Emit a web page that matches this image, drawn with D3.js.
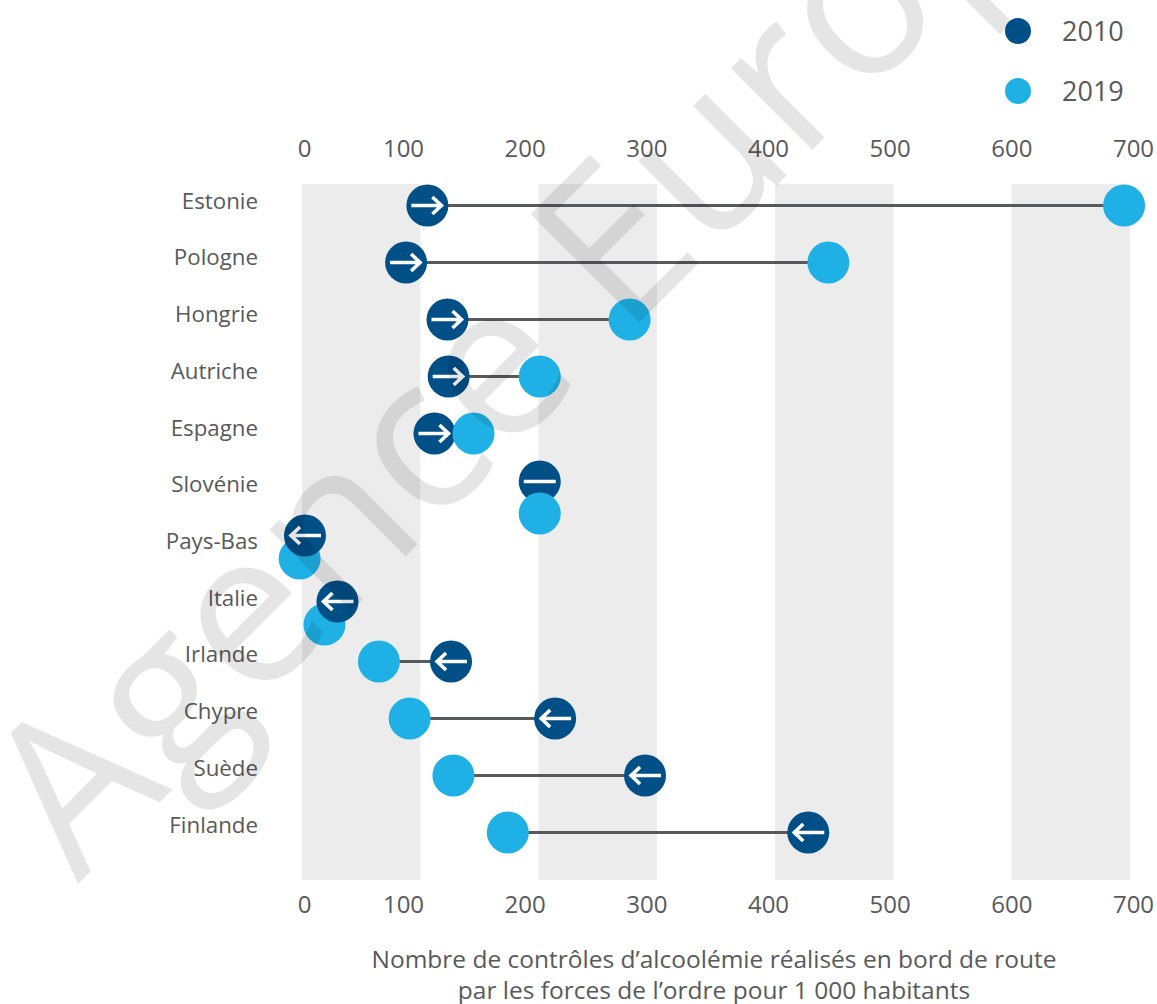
<!DOCTYPE html>
<html>
<head>
<meta charset="utf-8">
<script src="https://d3js.org/d3.v7.min.js"></script>
<style>
  body { margin: 0; background: #fff; }
  svg { display: block; }
  text { font-family: "Open Sans", sans-serif; fill: #58595b; }
</style>
</head>
<body>
<div id="chart"></div>
<script>
// values
const countries = ["Estonie", "Pologne", "Hongrie", "Autriche", "Espagne", "Slovénie", "Pays-Bas", "Italie", "Irlande", "Chypre", "Suède", "Finlande"];
const values2010 = [106, 88, 123, 124, 112, 201, 2.5, 30, 126, 214, 290, 428];
const values2019 = [695, 445, 277, 201, 145, 201, -2, 19, 65, 91, 128, 174];
const tickValues = [0, 100, 200, 300, 400, 500, 600, 700];
const bandStarts = [0, 200, 400, 600];
const years = ["2010", "2019"];
const xLabels = ["Nombre de contrôles d’alcoolémie réalisés en bord de route", "par les forces de l’ordre pour 1 000 habitants"];

// rows where the two dots are pushed apart vertically so they stay readable
const nudge2010 = { "Slovénie": -9, "Pays-Bas": -12, "Italie": -3 };
const nudge2019 = { "Slovénie": 23, "Pays-Bas": 11, "Italie": 20 };

const dark = "#004f87", light = "#1fb1e6";
const width = 1157, height = 1004, r = 21;

const svg = d3.select("#chart").append("svg")
    .attr("width", width)
    .attr("height", height);

const x = d3.scaleLinear().domain([0, 700]).range([302, 1130]);
const y = d3.scalePoint().domain(countries).range([205.5, 832.5]);
// labels run on a slightly tighter step than the rows
const yLabels = d3.scalePoint().domain(countries).range([201, 825]);
// the tick labels in the original do not sit on the bands, 0 is the odd one
const xTicks = d3.scaleLinear().domain([0, 100, 700]).range([304, 403, 1133]);

// grey bands
svg.append("g").selectAll("rect")
    .data(bandStarts)
    .join("rect")
    .attr("x", d => x(d))
    .attr("width", d => x(d + 100) - x(d))
    .attr("y", 184)
    .attr("height", 696)
    .attr("fill", "#ececec");

// axes
const topAxis = svg.append("g")
    .attr("transform", "translate(0,157)")
    .call(d3.axisTop(xTicks).tickValues(tickValues).tickSize(0).tickPadding(0).tickFormat(d3.format("d")));
const bottomAxis = svg.append("g")
    .attr("transform", "translate(0,896)")
    .call(d3.axisBottom(xTicks).tickValues(tickValues).tickSize(0).tickPadding(0).tickFormat(d3.format("d")));
const leftAxis = svg.append("g")
    .attr("transform", "translate(258,0)")
    .call(d3.axisLeft(yLabels).tickSize(0).tickPadding(0));

[topAxis, bottomAxis, leftAxis].forEach(function (a) {
    a.select(".domain").remove();
    a.selectAll("text").style("font-family", null).attr("font-size", 22.3);
});
topAxis.selectAll("text").attr("font-size", 24);
bottomAxis.selectAll("text").attr("font-size", 24);

// one group per country
const rows = countries.map((c, i) => ({ name: c, v10: values2010[i], v19: values2019[i] }));

const row = svg.append("g").selectAll("g")
    .data(rows)
    .join("g")
    .attr("transform", d => `translate(0,${y(d.name)})`);

row.append("line")
    .attr("x1", d => x(d.v10))
    .attr("x2", d => x(d.v19))
    .attr("stroke", "#58595b")
    .attr("stroke-width", 3);

function drawLight(g) {
    g.append("circle")
        .attr("cx", d => x(d.v19))
        .attr("cy", d => nudge2019[d.name] || 0)
        .attr("r", r)
        .attr("fill", light);
}

function drawDark(g) {
    const dot = g.append("g")
        .attr("transform", d => `translate(${x(d.v10)},${nudge2010[d.name] || 0})`);
    dot.append("circle").attr("r", r).attr("fill", dark);
    // arrow tells which way the figure moved, a flat bar if it did not
    dot.append("path")
        .attr("d", function (d) {
            if (d.v19 === d.v10) return "M-16,0H16";
            const s = d.v19 > d.v10 ? 1 : -1;
            return `M${-16 * s},0H${13 * s}M${5 * s},-8.5L${14 * s},0L${5 * s},8.5`;
        })
        .attr("fill", "none")
        .attr("stroke", "#fff")
        .attr("stroke-width", 3.6);
}

// dots that moved left have the 2010 dot on top, others the 2019 dot
row.each(function (d) {
    const g = d3.select(this);
    if (d.v19 < d.v10) { drawLight(g); drawDark(g); }
    else { drawDark(g); drawLight(g); }
});

// legend
const legend = svg.append("g").selectAll("g")
    .data(years)
    .join("g")
    .attr("transform", (d, i) => `translate(1018,${31 + i * 60})`);
legend.append("circle")
    .attr("r", 13)
    .attr("fill", (d, i) => i === 0 ? dark : light);
legend.append("text")
    .attr("x", 44)
    .attr("dy", "0.36em")
    .attr("font-size", 27)
    .text(d => d);

// axis title
svg.append("g").selectAll("text")
    .data(xLabels)
    .join("text")
    .attr("x", 714)
    .attr("y", (d, i) => 968 + i * 31)
    .attr("text-anchor", "middle")
    .attr("font-size", 24.5)
    .text(d => d);

// watermark sits over everything
svg.append("text")
    .attr("transform", "translate(78,884) rotate(-45) scale(0.985,1)")
    .attr("font-size", 215)
    .style("fill", "#000")
    .style("fill-opacity", 0.1)
    .text("Agence Europe");
</script>
</body>
</html>
